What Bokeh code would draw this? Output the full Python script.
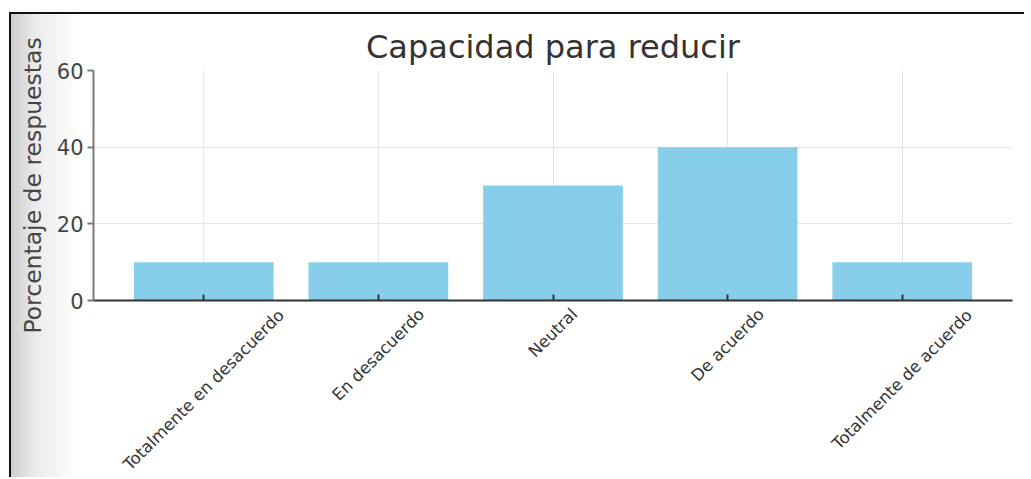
import math
from bokeh.plotting import figure
from bokeh.models import ColumnDataSource, FactorRange, Range1d, FixedTicker
from bokeh.core.properties import value
from bokeh.embed import file_html
from bokeh.resources import INLINE

# ---- data ----
categories = ["Totalmente en desacuerdo", "En desacuerdo", "Neutral", "De acuerdo", "Totalmente de acuerdo"]
percentages = [10, 10, 30, 40, 10]
y_ticks = [0, 20, 40, 60]

TITLE = "Capacidad para reducir"
Y_LABEL = "Porcentaje de respuestas"

FONT = "DejaVu Sans"
BAR_COLOR = "#87CEEB"
TEXT_COLOR = "#333333"

# approximate DejaVu Sans advance widths (em) for label layout
_W = {" ": .318, "T": .611, "o": .612, "t": .392, "a": .613, "l": .278, "m": .974,
      "e": .615, "n": .634, "d": .635, "s": .521, "c": .550, "u": .634, "r": .411,
      "E": .632, "N": .748, "D": .770}

def text_len(s, fs):
    return sum(_W.get(ch, .6) for ch in s) * fs

p = figure(
    x_range=FactorRange(factors=categories, range_padding=0.1315, range_padding_units="absolute"),
    y_range=Range1d(0, 60),
    width=1015, height=465,
    output_backend="svg", toolbar_location=None,
    min_border_left=82, min_border_right=14, min_border_top=56, min_border_bottom=179,
)
p.styles = {"border-top": "2px solid #111", "border-left": "2px solid #111",
            "margin-left": "9px", "margin-top": "12px",
            "background": "linear-gradient(to right, #cdcdcd 0px, #ececec 25px, #ffffff 70px)"}
p.border_fill_color = None
p.background_fill_color = "white"
p.outline_line_color = None

p.vbar(x=categories, top=percentages, width=0.8, color=BAR_COLOR, line_color=None)

# title
p.title.text = TITLE
p.title.text_font = FONT
p.title.text_font_size = "32px"
p.title.text_font_style = "normal"
p.title.text_color = TEXT_COLOR
p.title.align = "center"

# grids
p.xgrid.grid_line_color = "#e4e4e4"
p.ygrid.grid_line_color = "#e4e4e4"
p.ygrid.ticker = FixedTicker(ticks=y_ticks)

# y axis
p.yaxis.ticker = FixedTicker(ticks=y_ticks)
p.yaxis.axis_label = Y_LABEL
p.yaxis.axis_label_text_font = FONT
p.yaxis.axis_label_text_font_size = "23.5px"
p.yaxis.axis_label_text_font_style = "normal"
p.yaxis.axis_label_text_color = "#444444"
p.yaxis.axis_label_standoff = 7
p.yaxis.major_label_text_font = FONT
p.yaxis.major_label_text_font_size = "21px"
p.yaxis.major_label_text_color = "#444444"
p.yaxis.major_label_standoff = 4
p.yaxis.axis_line_color = "#7a7a7a"
p.yaxis.axis_line_width = 2
p.yaxis.major_tick_line_color = "#7a7a7a"
p.yaxis.major_tick_line_width = 2
p.yaxis.major_tick_out = 6
p.yaxis.major_tick_in = 0
p.yaxis.minor_tick_line_color = None

# x axis (its own labels replaced by centred rotated labels below)
p.xaxis.axis_line_color = "#333333"
p.xaxis.axis_line_width = 2
p.xaxis.major_tick_line_color = "#333333"
p.xaxis.major_tick_line_width = 2
p.xaxis.major_tick_in = 6
p.xaxis.major_tick_out = 0
p.xaxis.major_label_text_color = None

# rotated category labels, centred under their ticks (drawn as an overlay, outside the frame)
fs = 16.5
h = 1.17 * fs
pad = 4
c45 = math.cos(math.pi / 4)
offsets = [pad + c45 * (text_len(c, fs) + h) / 2 for c in categories]
lab_src = ColumnDataSource(dict(x=categories, y=[0] * len(categories), text=categories, yoff=offsets))
p.text(x="x", y="y", text="text", source=lab_src, y_offset="yoff",
       angle=math.pi / 4, text_align="center", text_baseline="middle",
       text_font=value(FONT), text_font_size=value(f"{fs}px"), text_color=TEXT_COLOR,
       level="overlay")

open("out.html", "w").write(file_html(p, INLINE))
